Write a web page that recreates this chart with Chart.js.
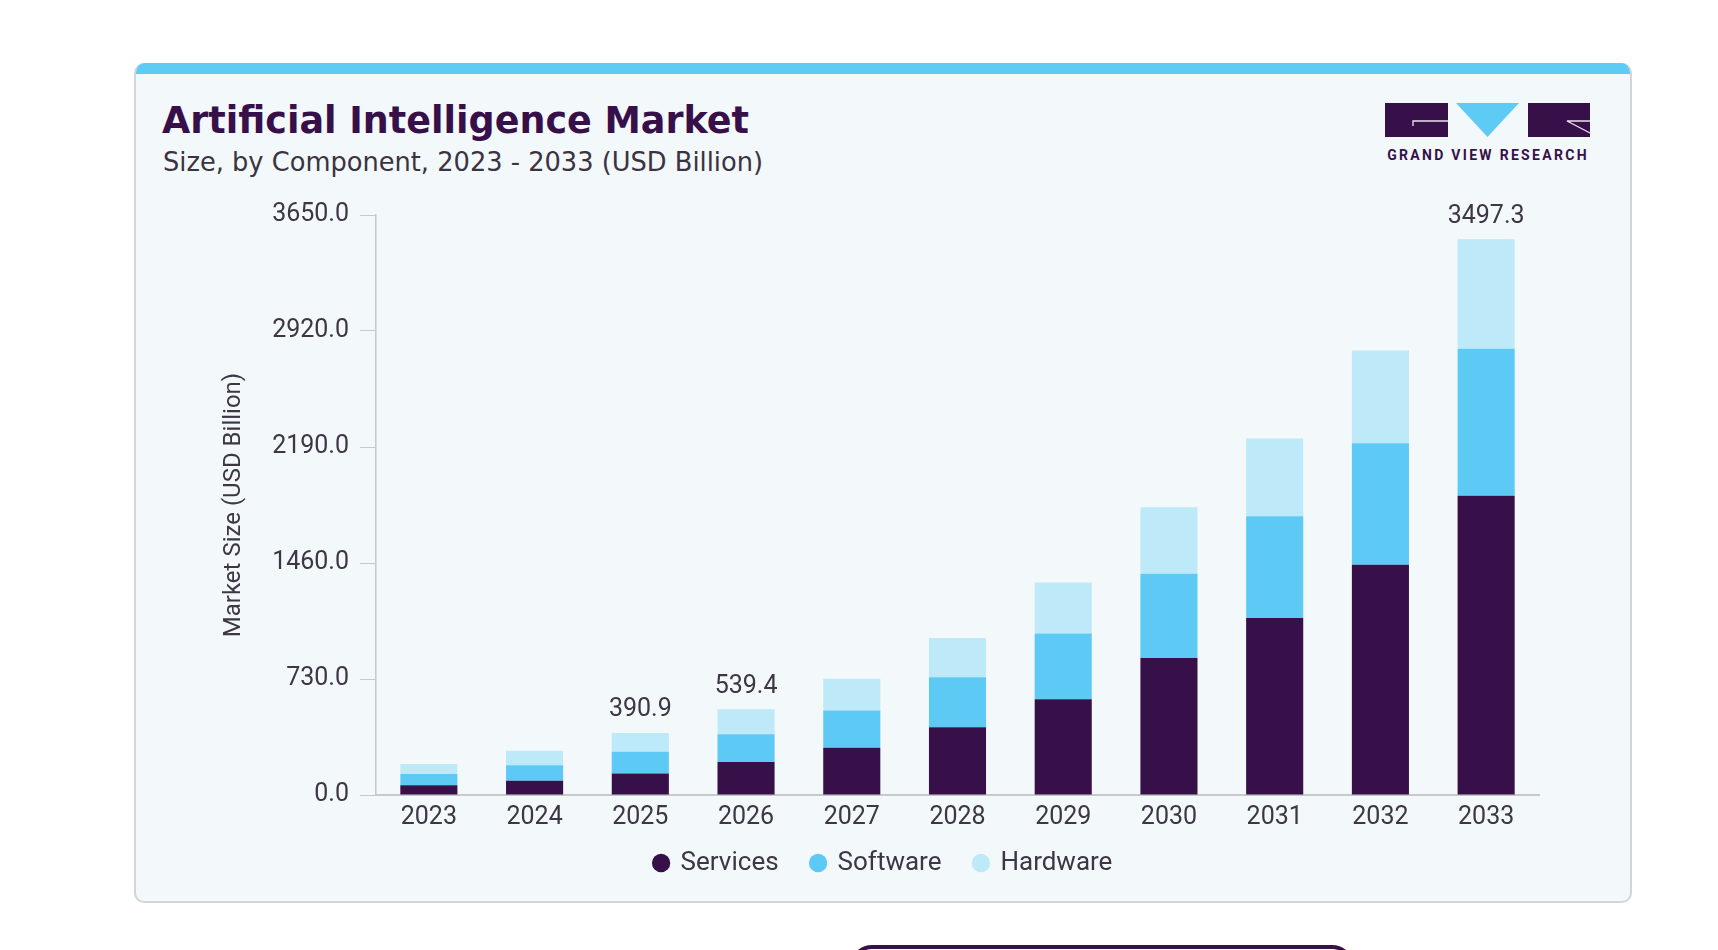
<!DOCTYPE html>
<html lang="en">
<head>
    <meta charset="UTF-8">
    <title>Artificial Intelligence Market</title>
    <script src="https://cdn.jsdelivr.net/npm/chart.js"></script>
    <style>
        html, body { margin: 0; padding: 0; background: #ffffff; width: 1718px; height: 950px; overflow: hidden; }
        body { font-family: Roboto, Arial, sans-serif; position: relative; }
        .card { position: absolute; left: 134px; top: 63px; width: 1494px; height: 838px; background: #f3f8fb;
                border: 2px solid #d3d5d8; border-top: none; border-radius: 10px; overflow: hidden; }
        .band { position: absolute; left: 0; top: 0; right: 0; height: 11px; background: #5ecbf5; }
        .title { position: absolute; left: 162px; top: 99px; font: bold 36.5px "DejaVu Sans", sans-serif; color: #37104a; white-space: nowrap; }
        .subtitle { position: absolute; left: 163px; top: 147px; font: 25.7px "DejaVu Sans", sans-serif; color: #3a3442; white-space: nowrap; }
        .logo { position: absolute; left: 1385px; top: 103px; }
        .chart-box { position: absolute; left: 190px; top: 180px; width: 1400px; height: 722px; }
        .button { position: absolute; left: 850px; top: 945px; width: 496px; height: 40px; border: 4px solid #37104a; border-radius: 22px; }
    </style>
</head>
<body>
    <div class="card"><div class="band"></div></div>
    <div class="title">Artificial Intelligence Market</div>
    <div class="subtitle">Size, by Component, 2023 - 2033 (USD Billion)</div>
    <svg class="logo" width="210" height="62" viewBox="0 0 210 62">
        <rect x="0" y="0" width="63" height="34" fill="#37104a"/>
        <polyline points="28,23 28,18 63,18" fill="none" stroke="#e8e2ee" stroke-width="1.3"/>
        <polygon points="71,0 134,0 102.5,34" fill="#5ecbf5"/>
        <rect x="143" y="0" width="62" height="34" fill="#37104a"/>
        <polyline points="205,18 182,18 205,30" fill="none" stroke="#e8e2ee" stroke-width="1.3"/>
        <text x="103" y="57" text-anchor="middle" font-family="Roboto, sans-serif" font-weight="bold" font-size="14"
              letter-spacing="2.3" fill="#37104a">GRAND VIEW RESEARCH</text>
    </svg>
    <div class="chart-box"><canvas id="aiChart"></canvas></div>
    <div class="button"></div>

    <script>
        // values (USD Billion)
        const years = ['2023', '2024', '2025', '2026', '2027', '2028', '2029', '2030', '2031', '2032', '2033'];
        const services = [61, 90, 136, 207, 297, 427, 603, 862, 1114, 1449, 1883.6];
        const software = [71, 98, 136, 176, 235, 314, 413, 530, 640, 764, 924.0];
        const hardware = [63, 91, 118.9, 156.4, 199, 247, 322, 419, 489, 585, 689.7];
        const totalLabels = [null, null, '390.9', '539.4', null, null, null, null, null, null, '3497.3'];
        const yTicks = [0, 730, 1460, 2190, 2920, 3650];

        const textColor = '#3c3645';

        // writes the total above the stacks that carry a label
        const totalsPlugin = {
            id: 'totals',
            afterDatasetsDraw(chart) {
                const ctx = chart.ctx;
                const top = chart.getDatasetMeta(chart.data.datasets.length - 1);
                ctx.save();
                ctx.font = '25px Roboto';
                ctx.fillStyle = textColor;
                ctx.textAlign = 'center';
                ctx.textBaseline = 'middle';
                totalLabels.forEach((lbl, i) => {
                    if (!lbl) return;
                    const bar = top.data[i];
                    ctx.fillText(lbl, bar.x, bar.y - 23);
                });
                ctx.restore();
            }
        };

        // pull the legend a little closer to the axis labels and centre it under the card
        const legendShift = {
            id: 'legendShift',
            afterLayout(chart) {
                const lg = chart.legend;
                if (!lg) return;
                lg.top -= 16;
                lg.bottom -= 16;
                lg.left += 19;
                lg.right += 19;
            }
        };

        function initChart() {
            const ctx = document.getElementById('aiChart').getContext('2d');
            new Chart(ctx, {
                type: 'bar',
                data: {
                    labels: years,
                    datasets: [
                        { label: 'Services', data: services, backgroundColor: '#37104a' },
                        { label: 'Software', data: software, backgroundColor: '#5dcaf5' },
                        { label: 'Hardware', data: hardware, backgroundColor: '#bde9f9' }
                    ]
                },
                options: {
                    responsive: true,
                    maintainAspectRatio: false,
                    animation: false,
                    categoryPercentage: 1.0,
                    barPercentage: 0.54,
                    layout: { padding: { left: 0, right: 51, top: 35, bottom: 0 } },
                    scales: {
                        x: {
                            stacked: true,
                            grid: { display: false, drawTicks: false },
                            border: { display: true, color: '#c8c9cc', width: 2 },
                            ticks: { color: textColor, font: { size: 25, family: 'Roboto' }, padding: 8 },
                            afterFit(axis) { axis.height = 38; }
                        },
                        y: {
                            stacked: true,
                            min: 0,
                            max: 3650,
                            afterBuildTicks(axis) { axis.ticks = yTicks.map(v => ({ value: v })); },
                            grid: { drawOnChartArea: false, drawTicks: true, tickLength: 16, color: '#c8c9cc' },
                            border: { display: true, color: '#c8c9cc', width: 1.5 },
                            ticks: {
                                color: textColor,
                                font: { size: 25, family: 'Roboto' },
                                padding: 11,
                                callback: v => v.toFixed(1)
                            },
                            title: {
                                display: true,
                                text: 'Market Size (USD Billion)',
                                color: textColor,
                                font: { size: 24, family: 'Roboto' },
                                padding: { top: 30, bottom: 0 }
                            },
                            afterFit(axis) { axis.width = 186; }
                        }
                    },
                    plugins: {
                        legend: {
                            position: 'bottom',
                            labels: {
                                usePointStyle: true,
                                pointStyle: 'circle',
                                boxWidth: 13,
                                boxHeight: 13,
                                padding: 33,
                                color: textColor,
                                font: { size: 26, family: 'Roboto' }
                            }
                        },
                        tooltip: { enabled: false }
                    }
                },
                plugins: [totalsPlugin, legendShift]
            });
        }

        window.addEventListener('load', initChart);
    </script>
</body>
</html>
